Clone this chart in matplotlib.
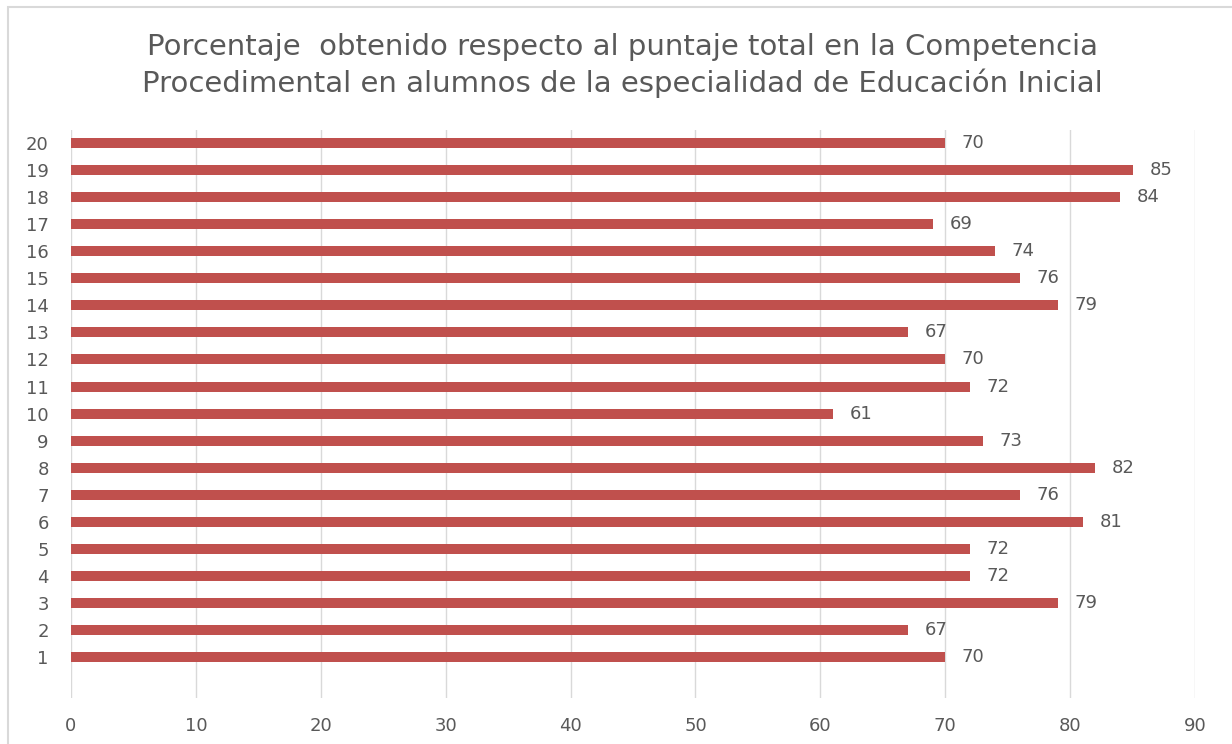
import matplotlib
matplotlib.use('Agg')
import matplotlib.pyplot as plt
from matplotlib.patches import Rectangle

# alumnos 1..20 y porcentaje obtenido
alumnos = list(range(1, 21))
porcentajes = [70, 67, 79, 72, 72, 81, 76, 82, 73, 61,
               72, 70, 67, 79, 76, 74, 69, 84, 85, 70]
xticks = [0, 10, 20, 30, 40, 50, 60, 70, 80, 90]

titulo = ("Porcentaje  obtenido respecto al puntaje total en la Competencia\n"
          "Procedimental en alumnos de la especialidad de Educación Inicial")

plt.rcParams['font.family'] = ['DejaVu Sans']
texto = '#595959'

fig = plt.figure(figsize=(12.32, 7.44), dpi=100)
fig.set_facecolor('white')
ax = fig.add_axes([0.0576, 0.0618, 0.9124, 0.7632])

ax.barh(alumnos, porcentajes, height=0.37, color='#C0504D', zorder=3)

for y, v in zip(alumnos, porcentajes):
    ax.annotate(str(v), (v, y), xytext=(12, 0), textcoords='offset points',
                va='center', ha='left', fontsize=13, color=texto)

ax.set_xlim(0, 90)
ax.set_ylim(-0.52, 20.48)
ax.set_xticks(xticks)
ax.set_yticks(alumnos)
ax.set_yticklabels([str(a) for a in alumnos])
ax.tick_params(axis='both', length=0, labelsize=13, labelcolor=texto)
ax.tick_params(axis='x', pad=14)
ax.tick_params(axis='y', pad=16)
ax.grid(True, axis='x', color='#D9D9D9', linewidth=1, zorder=0)
for s in ax.spines.values():
    s.set_visible(False)

fig.text(0.505, 0.912, titulo, ha='center', va='center', fontsize=21,
         color=texto, linespacing=1.3)

# borde del área del gráfico
fig.patches.append(Rectangle((8 / 1232, -0.01), 1.02, 1 - 7 / 744 + 0.01,
                             transform=fig.transFigure, fill=False,
                             edgecolor='#D9D9D9', linewidth=1.5))

fig.savefig('out.png', dpi=100)
